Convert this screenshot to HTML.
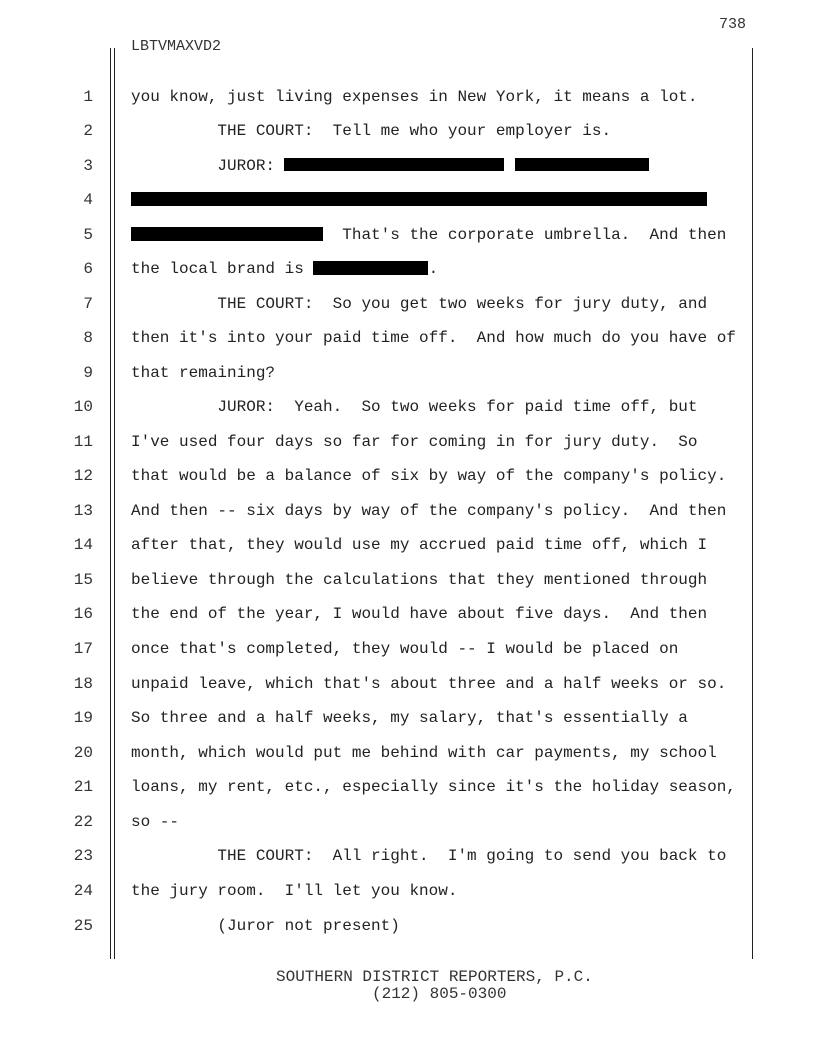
<!DOCTYPE html>
<html><head><meta charset="utf-8"><style>
body{margin:0;width:816px;height:1056px;background:#fff;position:relative;overflow:hidden;font-family:"Liberation Mono",monospace;font-size:16px;color:#222}
#w{position:absolute;left:0;top:1.5px;width:816px;height:1000px}
.t{position:absolute;left:131px;white-space:pre;line-height:18px}
.n{position:absolute;left:40px;width:53px;text-align:right;line-height:18px;color:#333}
.v{position:absolute;background:#222;width:1px}
</style></head><body>
<div class="v" style="left:110px;top:48px;height:911px"></div>
<div class="v" style="left:114px;top:48px;height:911px"></div>
<div class="v" style="left:752px;top:48px;height:911px"></div>
<div style="position:absolute;left:719px;top:16px;white-space:pre;font-size:15px;line-height:18px;color:#333">738</div>
<div style="position:absolute;left:131px;top:38px;white-space:pre;font-size:15px;line-height:18px;color:#333">LBTVMAXVD2</div>
<div id="w">
<div class="n" style="top:86px">1</div><div class="t" style="top:86px">you know, just living expenses in New York, it means a lot.</div>
<div class="n" style="top:120.5px">2</div><div class="t" style="top:120.5px">         THE COURT:  Tell me who your employer is.</div>
<div class="n" style="top:155px">3</div><div class="t" style="top:155px">         JUROR: </div>
<div style="position:absolute;left:284px;top:156px;width:220px;height:13px;background:#000"></div>
<div style="position:absolute;left:515px;top:156px;width:134px;height:13px;background:#000"></div>
<div class="n" style="top:189.5px">4</div>
<div style="position:absolute;left:131px;top:190px;width:576px;height:14px;background:#000"></div>
<div class="n" style="top:224px">5</div><div class="t" style="top:224px">                      That's the corporate umbrella.  And then</div>
<div style="position:absolute;left:131px;top:225px;width:192px;height:14px;background:#000"></div>
<div class="n" style="top:258.5px">6</div><div class="t" style="top:258.5px">the local brand is             .</div>
<div style="position:absolute;left:313px;top:259px;width:115px;height:14px;background:#000"></div>
<div class="n" style="top:293px">7</div><div class="t" style="top:293px">         THE COURT:  So you get two weeks for jury duty, and</div>
<div class="n" style="top:327.5px">8</div><div class="t" style="top:327.5px">then it's into your paid time off.  And how much do you have of</div>
<div class="n" style="top:362px">9</div><div class="t" style="top:362px">that remaining?</div>
<div class="n" style="top:396.6px">10</div><div class="t" style="top:396.6px">         JUROR:  Yeah.  So two weeks for paid time off, but</div>
<div class="n" style="top:431.1px">11</div><div class="t" style="top:431.1px">I've used four days so far for coming in for jury duty.  So</div>
<div class="n" style="top:465.7px">12</div><div class="t" style="top:465.7px">that would be a balance of six by way of the company's policy.</div>
<div class="n" style="top:500.2px">13</div><div class="t" style="top:500.2px">And then -- six days by way of the company's policy.  And then</div>
<div class="n" style="top:534.8px">14</div><div class="t" style="top:534.8px">after that, they would use my accrued paid time off, which I</div>
<div class="n" style="top:569.4px">15</div><div class="t" style="top:569.4px">believe through the calculations that they mentioned through</div>
<div class="n" style="top:603.9px">16</div><div class="t" style="top:603.9px">the end of the year, I would have about five days.  And then</div>
<div class="n" style="top:638.5px">17</div><div class="t" style="top:638.5px">once that's completed, they would -- I would be placed on</div>
<div class="n" style="top:673px">18</div><div class="t" style="top:673px">unpaid leave, which that's about three and a half weeks or so.</div>
<div class="n" style="top:707.6px">19</div><div class="t" style="top:707.6px">So three and a half weeks, my salary, that's essentially a</div>
<div class="n" style="top:742.2px">20</div><div class="t" style="top:742.2px">month, which would put me behind with car payments, my school</div>
<div class="n" style="top:776.7px">21</div><div class="t" style="top:776.7px">loans, my rent, etc., especially since it's the holiday season,</div>
<div class="n" style="top:811.3px">22</div><div class="t" style="top:811.3px">so --</div>
<div class="n" style="top:845.8px">23</div><div class="t" style="top:845.8px">         THE COURT:  All right.  I'm going to send you back to</div>
<div class="n" style="top:880.4px">24</div><div class="t" style="top:880.4px">the jury room.  I'll let you know.</div>
<div class="n" style="top:915px">25</div><div class="t" style="top:915px">         (Juror not present)</div>
</div>
<div style="position:absolute;left:276px;top:969px;white-space:pre;line-height:17px;color:#333">SOUTHERN DISTRICT REPORTERS, P.C.</div>
<div style="position:absolute;left:372px;top:986px;white-space:pre;line-height:17px;color:#333">(212) 805-0300</div>
</body></html>
